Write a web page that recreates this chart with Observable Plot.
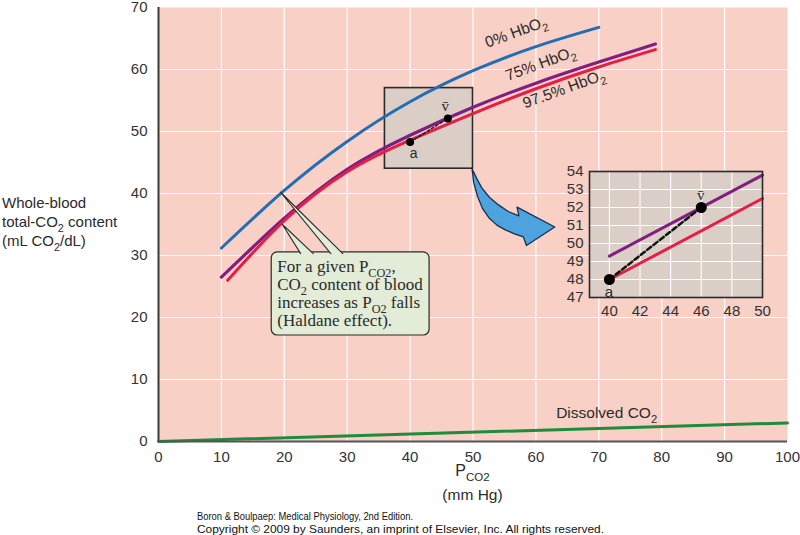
<!DOCTYPE html>
<html><head><meta charset="utf-8">
<script src="https://cdn.jsdelivr.net/npm/d3@7"></script>
<script src="https://cdn.jsdelivr.net/npm/@observablehq/plot@0.6"></script>
<style>
body{margin:0;background:#fff;}
#wrap{position:relative;width:800px;height:535px;overflow:hidden;}
#wrap svg{position:absolute;}
</style></head><body><div id="wrap"></div>
<script>
// ---- data ----
const xTicks = [0,10,20,30,40,50,60,70,80,90,100];
const yTicks = [0,10,20,30,40,50,60,70];
const blueX = [10,20,30,40,50,60,70];
const blueY = [31.2,40.5,48.4,54.8,59.8,63.7,66.8];
const purpleX = [10,20,30,40,50,60,70,79];
const purpleY = [26.5,36.0,43.9,49.4,53.9,57.8,61.2,64.1];
const redX = [11,20,30,40,50,60,70,79];
const redY = [26.0,35.6,43.5,48.6,52.9,56.9,60.4,63.2];
const dissolvedX = [0,100];
const dissolvedY = [0,3];
const pointNames = ["a","v\u0304"];
const mainPtX = [40,46];
const mainPtY = [48.3,52.1];
const boxX = [36,50];
const boxY = [44,57];
const curveNames = ["0% HbO","75% HbO","97.5% HbO"];
const curveLabelX = [57.2,61.1,64.8];
const curveLabelY = [65.2,60.1,56.0];
const calloutX = [18,43.1];
const calloutY = [17.1,30.5];
const wedge1X = [27.4,19.4,29.3];
const wedge1Y = [30.3,40.2,30.3];
const wedge2X = [22.6,19.7,24.6];
const wedge2Y = [30.3,35.0,30.3];
const arrowX = [49.85,50.6,51.4,52.6,54.0,55.6,57.3,57.0,63.0,58.5,58.0,56.6,55.2,53.8,52.6,51.5,50.7,50.1,49.85];
const arrowY = [44.0,42.4,40.9,39.4,38.2,37.1,36.4,37.8,34.6,31.6,33.0,33.5,34.1,34.9,36.0,37.6,39.6,41.8,44.0];
const insetXTicks = [40,42,44,46,48,50];
const insetYTicks = [47,48,49,50,51,52,53,54];
const insetPurpleX = [40,50];
const insetPurpleY = [49.3,53.8];
const insetRedX = [40,50];
const insetRedY = [48.0,52.5];
const insetPtX = [40,46];
const insetPtY = [48,52];

// ---- colors ----
const PINK="#f8d0c6", BOXF="#dacec6", BLUE="#216eb4", PURPLE="#821e82", RED="#e61e46",
      GREEN="#1e8c3c", CALL="#e2ecd7", DARK="#2a2a2a", TXT="#2b2b2b";

const pts = (xs, ys) => xs.map((x,i)=>({x, y: ys[i]}));
const wrap = document.getElementById("wrap");

const main = Plot.plot({
  width: 800, height: 535,
  marginLeft: 158, marginRight: 13, marginTop: 7, marginBottom: 94,
  style: {background:"transparent", fontFamily:"Liberation Sans, Arial, sans-serif", fontSize:"15px", color:"#333", overflow:"visible"},
  x: {domain:[0,100], ticks:xTicks, tickSize:0, tickPadding:10, label:null},
  y: {domain:[0,70], ticks:yTicks, tickSize:0, tickPadding:11, label:null},
  marks: [
    Plot.frame({fill:PINK, stroke:null}),
    Plot.ruleX(xTicks.slice(1,-1), {stroke:"#fff", strokeWidth:1.2}),
    Plot.ruleY(yTicks.slice(1,-1), {stroke:"#fff", strokeWidth:1.2}),
    Plot.rect([{}], {x1:boxX[0], x2:boxX[1], y1:boxY[0], y2:boxY[1], fill:BOXF, stroke:DARK, strokeWidth:1.6}),
    Plot.line(pts(dissolvedX,dissolvedY), {x:"x", y:"y", stroke:GREEN, strokeWidth:3}),
    Plot.line(pts(blueX,blueY), {x:"x", y:"y", stroke:BLUE, strokeWidth:3, curve:"natural"}),
    Plot.line(pts(purpleX,purpleY), {x:"x", y:"y", stroke:PURPLE, strokeWidth:3.2, curve:"natural"}),
    Plot.line(pts(redX,redY), {x:"x", y:"y", stroke:RED, strokeWidth:3, curve:"natural"}),
    Plot.line(pts(mainPtX,mainPtY), {x:"x", y:"y", stroke:"#111", strokeWidth:1.3, strokeDasharray:"3,2"}),
    Plot.dot(pts(mainPtX,mainPtY), {x:"x", y:"y", r:4, fill:"#000", stroke:"none"}),
    Plot.rect([{}], {x1:calloutX[0], x2:calloutX[1], y1:calloutY[0], y2:calloutY[1], fill:CALL, stroke:DARK, strokeWidth:1.2, rx:6}),
    Plot.line(pts(wedge1X,wedge1Y), {x:"x", y:"y", fill:CALL, stroke:DARK, strokeWidth:1.1}),
    Plot.line(pts(wedge2X,wedge2Y), {x:"x", y:"y", fill:CALL, stroke:DARK, strokeWidth:1.1}),
    Plot.line(pts(arrowX,arrowY), {x:"x", y:"y", fill:"#4ca3de", stroke:"#16304d", strokeWidth:1.3, strokeLinejoin:"round"}),
    Plot.ruleX([0], {stroke:"#3a3a3a", strokeWidth:2}),
    Plot.ruleY([0], {stroke:"#555", strokeWidth:2})
  ]
});
main.style.left="0px"; main.style.top="0px";
wrap.appendChild(main);

const inset = Plot.plot({
  width: 240, height: 180,
  marginLeft: 49, marginRight: 18, marginTop: 21, marginBottom: 33,
  style: {background:"transparent", fontFamily:"Liberation Sans, Arial, sans-serif", fontSize:"15px", color:"#333"},
  x: {domain:[38.7,50], ticks:insetXTicks, tickSize:0, tickPadding:8, label:null, tickFormat:"d"},
  y: {domain:[47,54], ticks:insetYTicks, tickSize:0, tickPadding:6, label:null, tickFormat:"d"},
  marks: [
    Plot.frame({fill:BOXF, stroke:null}),
    Plot.ruleX(insetXTicks.slice(0,-1), {stroke:"#fff", strokeWidth:1.1}),
    Plot.ruleY(insetYTicks.slice(1,-1), {stroke:"#fff", strokeWidth:1.1}),
    Plot.line(pts(insetPurpleX,insetPurpleY), {x:"x", y:"y", stroke:PURPLE, strokeWidth:3}),
    Plot.line(pts(insetRedX,insetRedY), {x:"x", y:"y", stroke:RED, strokeWidth:3}),
    Plot.line(pts(insetPtX,insetPtY), {x:"x", y:"y", stroke:"#111", strokeWidth:2.5, strokeDasharray:"5,3"}),
    Plot.dot(pts(insetPtX,insetPtY), {x:"x", y:"y", r:5.5, fill:"#000", stroke:"none"}),
    Plot.frame({stroke:DARK, strokeWidth:1.6})
  ]
});
inset.style.left="540px"; inset.style.top="150px";
wrap.appendChild(inset);

// ---- helpers for rich text (subscripts) ----
function scaleFn(chart, name){
  const s = chart.scale(name);
  if (s && typeof s.apply === "function") return v => s.apply(v);
  const lin = d3.scaleLinear(s.domain, s.range);
  return v => lin(v);
}
function rich(svg, x, y, parts, o={}){
  const size = o.size || 15;
  const t = d3.select(svg).append("text")
    .attr("x", x).attr("y", y)
    .attr("font-family", o.family || "Liberation Sans, Arial, sans-serif")
    .attr("font-size", size).attr("fill", o.fill || TXT)
    .attr("text-anchor", o.anchor || "start");
  if (o.length) t.attr("textLength", o.length).attr("lengthAdjust","spacingAndGlyphs");
  if (o.rotate) t.attr("transform", `rotate(${o.rotate},${x},${y})`);
  let shift = 0;
  parts.forEach(p => {
    const isSub = Array.isArray(p);
    const txt = isSub ? p[0] : p;
    const target = isSub ? size*0.3 : 0;
    const ts = t.append("tspan").text(txt);
    if (isSub) ts.attr("font-size", size*0.72);
    if (target !== shift) { ts.attr("dy", target - shift); shift = target; }
  });
  return t;
}

const X = scaleFn(main,"x"), Y = scaleFn(main,"y");
const sv = main;

// curve labels
curveNames.forEach((n,i)=>{
  rich(sv, X(curveLabelX[i]), Y(curveLabelY[i]), [n,["2"]], {anchor:"middle", rotate:-20, size:15.5});
});
// dissolved
rich(sv, X(63.3), Y(3.7), ["Dissolved CO",["2"]], {size:15.5});
// point labels
rich(sv, X(mainPtX[0])+4, Y(mainPtY[0])+16, [pointNames[0]], {anchor:"middle", size:14});
rich(sv, X(mainPtX[1])-2, Y(mainPtY[1])-7, [pointNames[1]], {anchor:"middle", size:15, family:"Liberation Serif, serif"});
// callout text
const cx = X(calloutX[0]) + 6, cy0 = Y(calloutY[1]) + 20;
const serif = "Liberation Serif, Times New Roman, serif";
rich(sv, cx, cy0, ["For a given P",["CO2"],","], {family:serif, size:17});
rich(sv, cx, cy0+18, ["CO",["2"]," content of blood"], {family:serif, size:17});
rich(sv, cx, cy0+36, ["increases as P",["O2"]," falls"], {family:serif, size:17});
rich(sv, cx, cy0+54, ["(Haldane effect)."], {family:serif, size:17});
// y-axis title
rich(sv, 2, 208, ["Whole-blood"], {size:15});
rich(sv, 2, 227, ["total-CO",["2"]," content"], {size:15});
rich(sv, 2, 246, ["(mL CO",["2"],"/dL)"], {size:15});
// x-axis title
rich(sv, X(50), 476, ["P",["CO2"]], {anchor:"middle", size:16});
rich(sv, X(50), 500, ["(mm Hg)"], {anchor:"middle", size:15.5});
// caption
rich(sv, 197, 520, ["Boron & Boulpaep: Medical Physiology, 2nd Edition."], {size:11, fill:"#111", length:216});
rich(sv, 197, 533, ["Copyright \u00a9 2009 by Saunders, an imprint of Elsevier, Inc. All rights reserved."], {size:11, fill:"#111", length:407});

// inset point labels
const IX = scaleFn(inset,"x"), IY = scaleFn(inset,"y");
rich(inset, IX(insetPtX[0]), IY(insetPtY[0])+18, [pointNames[0]], {anchor:"middle", size:15});
rich(inset, IX(insetPtX[1]), IY(insetPtY[1])-7, [pointNames[1]], {anchor:"middle", size:15, family:serif});
</script></body></html>
